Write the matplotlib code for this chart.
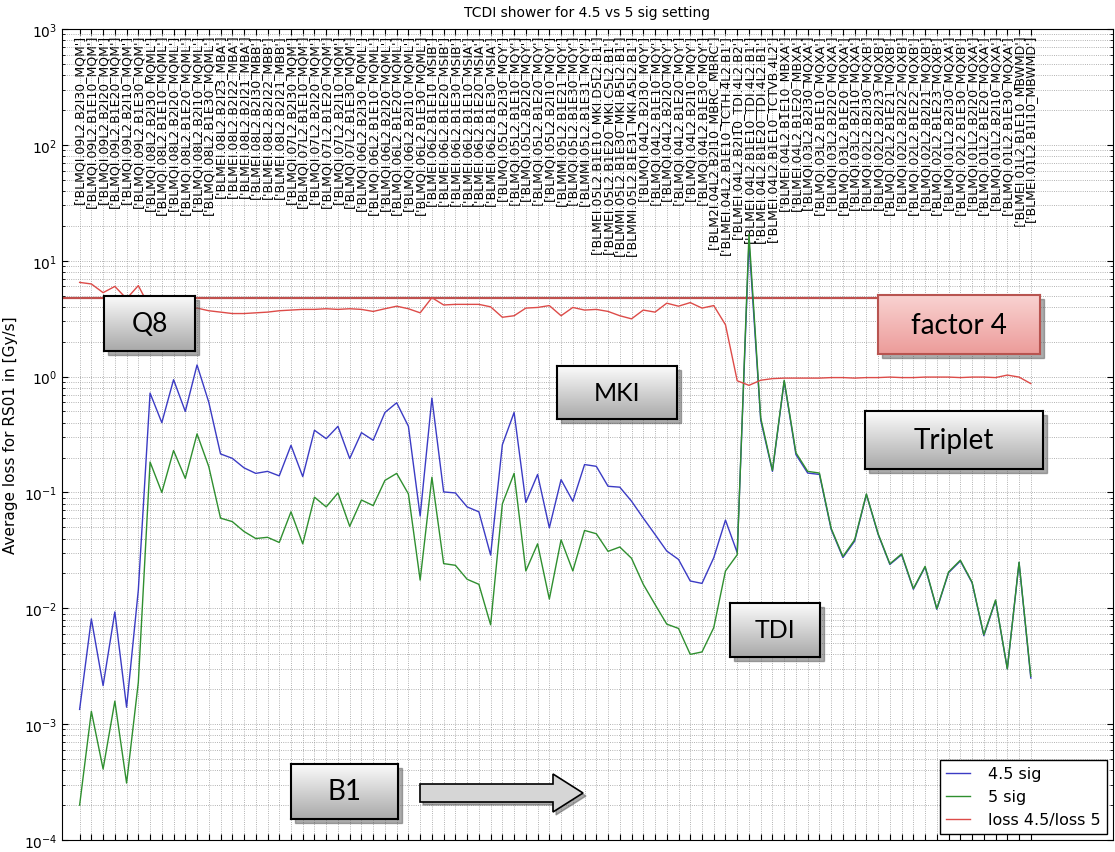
import matplotlib
matplotlib.use('Agg')
import matplotlib.pyplot as plt
import numpy as np
from matplotlib.colors import LinearSegmentedColormap
from matplotlib.patches import Rectangle, Polygon

# BLM names along the beam line (B1, IR2 left side)
blm_names = [
    'BLMQI.09L2.B2I30_MQM', 'BLMQI.09L2.B1E10_MQM', 'BLMQI.09L2.B2I20_MQM',
    'BLMQI.09L2.B1E20_MQM', 'BLMQI.09L2.B2I10_MQM', 'BLMQI.09L2.B1E30_MQM',
    'BLMQI.08L2.B2I30_MQML', 'BLMQI.08L2.B1E10_MQML', 'BLMQI.08L2.B2I20_MQML',
    'BLMQI.08L2.B1E20_MQML', 'BLMQI.08L2.B2I10_MQML', 'BLMQI.08L2.B1E30_MQML',
    'BLMEI.08L2.B2I23_MBA', 'BLMEI.08L2.B2I22_MBA', 'BLMEI.08L2.B2I21_MBA',
    'BLMEI.08L2.B2I30_MBB', 'BLMEI.08L2.B2I22_MBB', 'BLMEI.08L2.B2I21_MBB',
    'BLMQI.07L2.B2I30_MQM', 'BLMQI.07L2.B1E10_MQM', 'BLMQI.07L2.B2I20_MQM',
    'BLMQI.07L2.B1E20_MQM', 'BLMQI.07L2.B2I10_MQM', 'BLMQI.07L2.B1E30_MQM',
    'BLMQI.06L2.B2I30_MQML', 'BLMQI.06L2.B1E10_MQML', 'BLMQI.06L2.B2I20_MQML',
    'BLMQI.06L2.B1E20_MQML', 'BLMQI.06L2.B2I10_MQML', 'BLMQI.06L2.B1E30_MQML',
    'BLMEI.06L2.B1E10_MSIB', 'BLMEI.06L2.B1E20_MSIB', 'BLMEI.06L2.B1E30_MSIB',
    'BLMEI.06L2.B1E10_MSIA', 'BLMEI.06L2.B1E20_MSIA', 'BLMEI.06L2.B1E30_MSIA',
    'BLMQI.05L2.B2I30_MQY', 'BLMQI.05L2.B1E10_MQY', 'BLMQI.05L2.B2I20_MQY',
    'BLMQI.05L2.B1E20_MQY', 'BLMQI.05L2.B2I10_MQY', 'BLMMI.05L2.B1E21_MQY',
    'BLMQI.05L2.B1E30_MQY', 'BLMMI.05L2.B1E31_MQY',
    'BLMEI.05L2.B1E10_MKI.D5L2.B1', 'BLMEI.05L2.B1E20_MKI.C5L2.B1',
    'BLMMI.05L2.B1E30_MKI.B5L2.B1', 'BLMMI.05L2.B1E31_MKI.A5L2.B1',
    'BLMQI.04L2.B2I30_MQY', 'BLMQI.04L2.B1E10_MQY', 'BLMQI.04L2.B2I20_MQY',
    'BLMQI.04L2.B1E20_MQY', 'BLMQI.04L2.B2I10_MQY', 'BLMQI.04L2.B1E30_MQY',
    'BLM2I.04L2.B2I10_MBRC_MBRC', 'BLMEI.04L2.B1E10_TCTH.4L2.B1',
    'BLMEI.04L2.B2I10_TDI.4L2.B2', 'BLMEI.04L2.B1E10_TDI.4L2.B1',
    'BLMEI.04L2.B1E20_TDI.4L2.B1', 'BLMEI.04L2.B1E10_TCTVB.4L2',
    'BLMEI.04L2.B1E10_MBXA', 'BLMEI.04L2.B1E20_MBXA',
    'BLMQI.03L2.B2I30_MQXA', 'BLMQI.03L2.B1E10_MQXA', 'BLMQI.03L2.B2I20_MQXA',
    'BLMQI.03L2.B1E20_MQXA', 'BLMQI.03L2.B2I10_MQXA',
    'BLMQI.02L2.B2I30_MQXB', 'BLMQI.02L2.B2I23_MQXB', 'BLMQI.02L2.B1E21_MQXB',
    'BLMQI.02L2.B2I22_MQXB', 'BLMQI.02L2.B1E22_MQXB', 'BLMQI.02L2.B2I21_MQXB',
    'BLMQI.02L2.B1E23_MQXB', 'BLMQI.01L2.B2I30_MQXA', 'BLMQI.02L2.B1E30_MQXB',
    'BLMQI.01L2.B2I20_MQXA', 'BLMQI.01L2.B1E20_MQXA', 'BLMQI.01L2.B2I10_MQXA',
    'BLMQI.01L2.B1E30_MQXA', 'BLMEI.01L2.B1E10_MBWMD', 'BLMEI.01L2.B1I10_MBWMD',
]

# average loss [Gy/s] for 4.5 sigma setting
loss_45 = [
    1.34e-3, 8.1e-3, 2.15e-3, 9.3e-3, 1.4e-3, 1.44e-2, 0.72, 0.40, 0.94, 0.50,
    1.26, 0.60, 0.215, 0.197, 0.163, 0.146, 0.152, 0.139, 0.255, 0.137,
    0.344, 0.291, 0.372, 0.196, 0.328, 0.282, 0.49, 0.594, 0.372, 0.0625,
    0.652, 0.101, 0.099, 0.075, 0.068, 0.0288, 0.258, 0.49, 0.082, 0.143,
    0.0495, 0.129, 0.084, 0.174, 0.168, 0.113, 0.111, 0.084, 0.060, 0.0434,
    0.0312, 0.0264, 0.0172, 0.0164, 0.0273, 0.0577, 0.0302, 14.5, 0.42, 0.152,
    0.91, 0.212, 0.147, 0.143, 0.048, 0.0274, 0.038, 0.096, 0.0434, 0.0239,
    0.029, 0.0146, 0.0227, 0.0098, 0.0203, 0.0256, 0.0166, 0.0058, 0.0116, 0.0030,
    0.0248, 0.0025,
]

# average loss [Gy/s] for 5 sigma setting
loss_5 = [
    2.0e-4, 1.29e-3, 4.1e-4, 1.58e-3, 3.1e-4, 2.3e-3, 0.183, 0.100, 0.23, 0.132,
    0.32, 0.167, 0.060, 0.056, 0.046, 0.040, 0.041, 0.037, 0.068, 0.036,
    0.091, 0.075, 0.099, 0.051, 0.086, 0.077, 0.127, 0.146, 0.097, 0.0175,
    0.135, 0.0243, 0.0235, 0.0178, 0.0161, 0.0072, 0.0797, 0.146, 0.0210, 0.036,
    0.012, 0.039, 0.021, 0.047, 0.044, 0.031, 0.0338, 0.027, 0.0161, 0.0108,
    0.0073, 0.0067, 0.0040, 0.0042, 0.0068, 0.021, 0.029, 17.0, 0.44, 0.155,
    0.93, 0.22, 0.152, 0.147, 0.049, 0.028, 0.039, 0.097, 0.0440, 0.0242,
    0.0295, 0.0148, 0.0230, 0.0099, 0.0206, 0.0260, 0.0168, 0.0059, 0.0118, 0.0030,
    0.0250, 0.0026,
]

# ratio loss 4.5 / loss 5
ratio = [
    6.5, 6.3, 5.3, 6.0, 4.7, 6.1, 3.9, 4.0, 4.1, 3.8,
    3.9, 3.7, 3.6, 3.5, 3.5, 3.55, 3.6, 3.7, 3.75, 3.8,
    3.8, 3.85, 3.8, 3.85, 3.8, 3.65, 3.85, 4.05, 3.85, 3.55,
    4.8, 4.15, 4.2, 4.2, 4.2, 4.0, 3.25, 3.35, 3.9, 3.95,
    4.1, 3.35, 3.95, 3.75, 3.8, 3.65, 3.35, 3.15, 3.75, 3.6,
    4.3, 4.05, 4.35, 3.9, 4.1, 2.8, 0.92, 0.84, 0.93, 0.96,
    0.97, 0.97, 0.97, 0.97, 0.98, 0.98, 0.97, 0.98, 0.98, 0.99,
    0.98, 0.98, 0.99, 0.99, 0.99, 0.98, 0.99, 0.99, 0.98, 1.03,
    0.99, 0.87,
]

factor_level = 4.8

W, H = 1115, 853
fig = plt.figure(figsize=(W / 100, H / 100), dpi=100)
ax = fig.add_axes([62 / W, 12 / H, (1113 - 62) / W, (841 - 30) / H])

x = np.arange(len(blm_names))
ax.plot(x, loss_45, color='#3b3bc4', lw=1.0, label='4.5 sig')
ax.plot(x, loss_5, color='#2f8f2f', lw=1.0, label='5 sig')
ax.plot(x, ratio, color='#dd4b48', lw=1.0, label='loss 4.5/loss 5')
ax.axhline(factor_level, xmin=0, xmax=0.78, color='#c0504d', lw=1.6, zorder=1)

ax.set_yscale('log')
ax.set_ylim(1e-4, 1e3)
ax.set_xlim(-1.5, 88)
ax.set_ylabel('Average loss for RS01 in [Gy/s]', fontsize=11)
ax.set_title('TCDI shower for 4.5 vs 5 sig setting', fontsize=10, pad=9)

# tick labels hang down from the top spine, inside the plot
ax.set_xticks(x)
ax.tick_params(axis='x', which='both', direction='in', top=True, bottom=True,
               labeltop=True, labelbottom=False, pad=-3.5, length=4)
ax.set_xticklabels(["['%s']" % n for n in blm_names], rotation=90,
                   va='top', ha='center', fontsize=9)
ax.tick_params(axis='y', which='both', direction='in', left=True, right=True,
               labelsize=10)
ax.tick_params(axis='y', which='major', length=4)
ax.tick_params(axis='y', which='minor', length=2)
ax.grid(True, which='both', linestyle=':', color='0.6', lw=0.6)

ax.legend(loc='lower right', fontsize=11.5, fancybox=False, edgecolor='black',
          framealpha=1, handlelength=1.5, handletextpad=1.1, borderaxespad=0.4)


def label_box(x0, y0, x1, y1, text, size, top, bottom, edge):
    shadow = Rectangle(((x0 + 4) / W, 1 - (y1 + 4) / H), (x1 - x0) / W, (y1 - y0) / H,
                       transform=fig.transFigure, color='0.35', alpha=0.5, zorder=5)
    fig.patches.append(shadow)
    bax = fig.add_axes([x0 / W, 1 - y1 / H, (x1 - x0) / W, (y1 - y0) / H], zorder=6)
    cmap = LinearSegmentedColormap.from_list('grad', [top, bottom])
    bax.imshow(np.linspace(0, 1, 64)[:, None], aspect='auto', cmap=cmap,
               extent=[0, 1, 0, 1])
    bax.set_xticks([])
    bax.set_yticks([])
    for s in bax.spines.values():
        s.set_color(edge)
        s.set_linewidth(1.5)
    bax.text(0.5, 0.5, text, ha='center', va='center', fontsize=size,
             family='Lato', color='black', transform=bax.transAxes)


gray_top, gray_bot = '#fbfbfb', '#a9a9a9'
label_box(104, 297, 195, 352, 'Q8', 19, gray_top, gray_bot, 'black')
label_box(557, 367, 677, 420, 'MKI', 18, gray_top, gray_bot, 'black')
label_box(878, 296, 1040, 355, 'factor 4', 20, '#f9d2d1', '#ec9c9a', '#b85450')
label_box(865, 412, 1043, 470, 'Triplet', 20, gray_top, gray_bot, 'black')
label_box(730, 604, 820, 658, 'TDI', 18, gray_top, gray_bot, 'black')
label_box(291, 765, 398, 820, 'B1', 20, gray_top, gray_bot, 'black')

# block arrow pointing in beam direction
arrow_px = [(420, 785), (553, 785), (553, 775), (583, 794), (553, 813),
            (553, 803), (420, 803)]
shadow_pts = [((px + 3) / W, 1 - (py + 3) / H) for px, py in arrow_px]
fig.patches.append(Polygon(shadow_pts, closed=True, transform=fig.transFigure,
                           color='0.35', alpha=0.5, zorder=5))
arrow_pts = [(px / W, 1 - py / H) for px, py in arrow_px]
fig.patches.append(Polygon(arrow_pts, closed=True, transform=fig.transFigure,
                           facecolor='#d6d6d6', edgecolor='black', lw=1.2, zorder=6))

plt.savefig('out.png', dpi=100)
